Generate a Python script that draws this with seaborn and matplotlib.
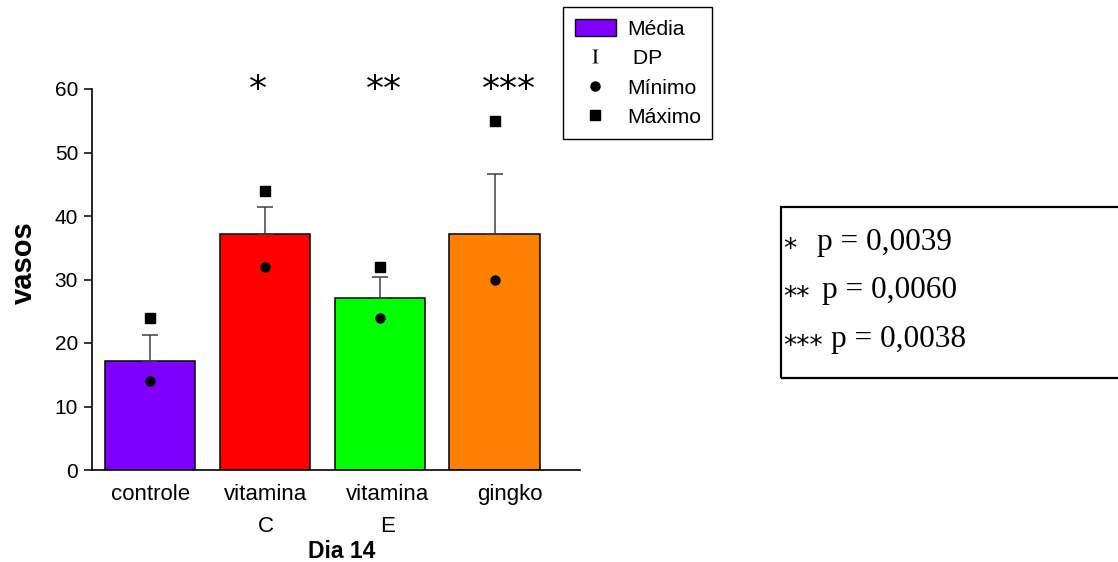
import numpy as np
import pandas as pd
import matplotlib
matplotlib.use("Agg")
import matplotlib.pyplot as plt
import matplotlib.transforms as mtransforms
from matplotlib.patches import Patch, Rectangle
from matplotlib.lines import Line2D
import seaborn as sns

# --- data -------------------------------------------------------------
categories = ["controle", "vitamina C", "vitamina E", "gingko"]
tick_labels = ["controle", "vitamina\nC", "vitamina\nE", "gingko"]
means = [17.2, 37.2, 27.1, 37.1]
sd = [4.0, 4.2, 3.3, 9.5]
minimum = [14, 32, 24, 30]
maximum = [24, 44, 32, 55]
colors = ["#8000FF", "#FF0000", "#00FF00", "#FF8000"]
significance = ["", "*", "**", "***"]
p_stars = ["*", "**", "***"]
p_texts = ["p = 0,0039", "p = 0,0060", "p = 0,0038"]

sns.set_style("ticks")
plt.rcParams["font.family"] = ["Liberation Sans", "DejaVu Sans"]
plt.rcParams["mathtext.fontset"] = "stix"
for key in ("text.color", "axes.labelcolor", "xtick.color", "ytick.color",
            "axes.edgecolor"):
    plt.rcParams[key] = "black"

W, H = 1118, 562
fig = plt.figure(figsize=(W / 100, H / 100), dpi=100)
ax = fig.add_axes([92 / W, 92 / H, 488 / W, 381 / H])

df = pd.DataFrame({"grupo": categories, "media": means})
sns.barplot(data=df, x="grupo", y="media", hue="grupo", palette=colors,
            order=categories, width=0.79, edgecolor="black", linewidth=1.1,
            saturation=1, errorbar=None, legend=False, ax=ax)

pos = np.arange(len(categories))
# upper standard deviation only
ax.errorbar(pos, means, yerr=[np.zeros(len(sd)), sd], fmt="none",
            ecolor="#404040", elinewidth=1.1, capsize=5.8, capthick=1.1, zorder=3)
ax.plot(pos, minimum, linestyle="none", marker="o", color="black", markersize=6.5, zorder=4)
ax.plot(pos, maximum, linestyle="none", marker="s", color="black", markersize=6.5, zorder=4)

ax.set_xlim(-0.504, 3.74)
ax.set_ylim(0, 60)
ax.set_yticks(range(0, 61, 10))
sns.despine(ax=ax)
for s in ("left", "bottom"):
    ax.spines[s].set_linewidth(1.2)
    ax.spines[s].set_color("black")

ax.tick_params(axis="y", length=6, width=1.1, pad=4, labelsize=15, colors="black")
ax.tick_params(axis="x", length=0, pad=10, labelsize=16, colors="black")
ax.set_xticks(pos)
ax.set_xticklabels(tick_labels)

label_shift = [1, 1, 8, 15]
for lbl, dx in zip(ax.get_xticklabels(), label_shift):
    lbl.set_linespacing(1.7)
    lbl.set_transform(lbl.get_transform() +
                      mtransforms.ScaledTranslation(dx / 100, 0, fig.dpi_scale_trans))

# significance marks above the bars
star_shift = [0, -7, 4, 14]
for i, (txt, dx) in enumerate(zip(significance, star_shift)):
    if txt:
        t = ax.text(i, 58.3, txt, ha="center", va="baseline", fontsize=26,
                    family="DejaVu Sans", clip_on=False)
        t.set_transform(ax.transData +
                        mtransforms.ScaledTranslation(dx / 100, 0, fig.dpi_scale_trans))

ax.set_xlabel("Dia 14", fontsize=16.5, fontweight="bold")
ax.xaxis.set_label_coords(0.512, -0.183)
ax.xaxis.label.set_va("top")
ax.set_ylabel("vasos", fontsize=21, fontweight="bold")
ax.yaxis.set_label_coords(-0.11, 0.543)

# legend
handles = [
    Patch(facecolor=colors[0], edgecolor="black", linewidth=1),
    Line2D([], [], linestyle="none", marker=r"$\mathrm{I}$", color="black",
           markersize=10, markeredgewidth=0),
    Line2D([], [], linestyle="none", marker="o", color="black", markersize=6.5),
    Line2D([], [], linestyle="none", marker="s", color="black", markersize=6.5),
]
leg = fig.legend(handles, ["Média", " DP", "Mínimo", "Máximo"],
                 loc="upper left", bbox_to_anchor=(563 / W, 1 - 7 / H),
                 fontsize=15.2, frameon=True, fancybox=False, framealpha=1,
                 edgecolor="black", borderpad=0.55, handlelength=1.97,
                 handleheight=0.9, handletextpad=0.5, labelspacing=0.45,
                 borderaxespad=0)
leg.get_frame().set_linewidth(1.0)

# p-value box
fig.patches.append(Rectangle((781 / W, 1 - 378 / H), 360 / W, 171 / H,
                             transform=fig.transFigure, fill=False,
                             edgecolor="black", linewidth=1.6))
baselines = [250, 298, 347]
p_x = [817, 822, 831]
for st, txt, yb, xp in zip(p_stars, p_texts, baselines, p_x):
    fig.text(783 / W, 1 - (yb + 7) / H, st, ha="left", va="baseline",
             fontsize=19, family="DejaVu Sans")
    fig.text(xp / W, 1 - yb / H, txt, ha="left", va="baseline",
             fontsize=22.5, family="Liberation Serif")

fig.savefig("out.png", dpi=100)
